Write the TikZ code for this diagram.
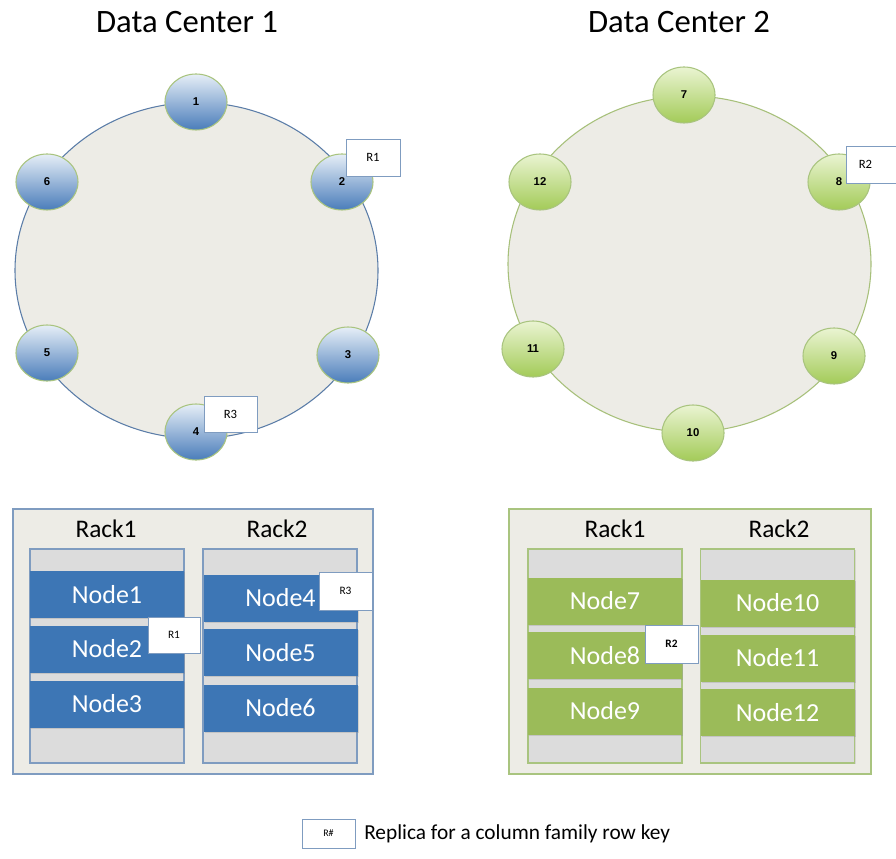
\documentclass[tikz,border=0pt]{standalone}
\usepackage{fontspec}
\setmainfont{Carlito}
\newfontfamily\numfont{Liberation Sans}
\usetikzlibrary{shapes.geometric,shadows}
\definecolor{ringfill}{HTML}{EDECE6}
\definecolor{ringblue}{HTML}{5B7DA8}
\definecolor{ringgreen}{HTML}{A7C07A}
\definecolor{blkblue}{HTML}{3D76B5}
\definecolor{blkgreen}{HTML}{9BBB59}
\definecolor{rackgrey}{HTML}{DCDCDC}
\definecolor{edgeblue}{HTML}{7F9CC0}
\definecolor{edgegreen}{HTML}{A9C47F}
\definecolor{ballbluetop}{HTML}{E6EEF7}
\definecolor{ballbluebot}{HTML}{4A7DBA}
\definecolor{ballgreentop}{HTML}{EAF4D2}
\definecolor{ballgreenbot}{HTML}{A3CB58}
\def\u{0.75pt}
\tikzset{
  ring/.style={ellipse, fill=ringfill, line width=0.8pt, minimum width=363*\u, minimum height=336*\u, inner sep=0pt},
  ball/.style={ellipse, draw=edgegreen, line width=0.8pt, minimum width=62*\u, minimum height=56*\u, inner sep=0pt, font=\numfont\bfseries\fontsize{8.5}{10}\selectfont},
  bballb/.style={ball, top color=ballbluetop, bottom color=ballbluebot},
  bballg/.style={ball, top color=ballgreentop, bottom color=ballgreenbot},
  rbox/.style={rectangle, fill=white, draw=edgeblue, line width=0.7pt, inner sep=0pt, font=\fontsize{9.5}{11}\selectfont, drop shadow={opacity=0.25, shadow xshift=1pt, shadow yshift=-1pt}},
  title/.style={anchor=base, font=\fontsize{24.5}{28}\selectfont},
  racklabel/.style={anchor=base, font=\fontsize{19}{22}\selectfont},
  outerbox/.style={rectangle, fill=ringfill, line width=0.8pt, inner sep=0pt, drop shadow={opacity=0.2, shadow xshift=1pt, shadow yshift=-1pt}},
  column/.style={rectangle, fill=rackgrey, line width=0.8pt, inner sep=0pt, minimum width=154*\u, minimum height=214*\u, drop shadow={opacity=0.2, shadow xshift=1pt, shadow yshift=-1pt}},
  blk/.style={rectangle, inner sep=0pt, minimum width=154*\u, minimum height=47*\u, text=white, font=\fontsize{19.5}{22}\selectfont, drop shadow={opacity=0.25, shadow xshift=0.8pt, shadow yshift=-0.8pt}},
  bblk/.style={blk, fill=blkblue},
  gblk/.style={blk, fill=blkgreen},
}
\begin{document}
\begin{tikzpicture}[x=0.75pt, y=-0.75pt]
\useasboundingbox (0,0) rectangle (896,859);
\fill[white] (0,0) rectangle (896,859);

% titles
\node[title] (t1) at (187,33) {Data Center 1};
\node[title] (t2) at (679,33) {Data Center 2};

% ---------- Data Center 1 ring ----------
\node[ring, draw=ringblue] (ring1) at (196.5,270.5) {};
\node[bballb] (n1) at (196,102) {1};
\node[bballb] (n2) at (342,182) {2};
\node[bballb] (n3) at (348,355) {3};
\node[bballb] (n4) at (196,432) {4};
\node[bballb] (n5) at (47,353) {5};
\node[bballb] (n6) at (47,182) {6};
\node[rbox, minimum width=54*\u, minimum height=37*\u] (r1a) at (373,157.5) {R1};
\node[rbox, minimum width=53*\u, minimum height=36*\u] (r3a) at (230.5,414) {R3};

% ---------- Data Center 2 ring ----------
\node[ring, draw=ringgreen] (ring2) at (689.5,264) {};
\node[bballg] (n7) at (684,95) {7};
\node[bballg] (n8) at (839,182) {8};
\node[bballg] (n9) at (834,356) {9};
\node[bballg] (n10) at (693,433) {10};
\node[bballg] (n11) at (533,349) {11};
\node[bballg] (n12) at (540,182) {12};
\node[rbox, anchor=west, minimum width=54*\u, minimum height=37*\u, text width=48*\u, align=left] (r2a) at (846,164.5) {\hspace*{7pt}R2};

% ---------- Data Center 1 racks ----------
\node[outerbox, draw=edgeblue, minimum width=360*\u, minimum height=265*\u] (dc1box) at (193,641.5) {};
\node[racklabel] (rk11) at (106,537) {Rack1};
\node[racklabel] (rk12) at (277,537) {Rack2};
\node[column, draw=edgeblue] (col11) at (107,656) {};
\node[column, draw=edgeblue] (col12) at (280,656) {};
\node[bblk] (b1) at (107,594.5) {Node1};
\node[bblk] (b2) at (107,649) {Node2};
\node[bblk] (b3) at (107,704) {Node3};
\node[bblk] (b4) at (280.5,598) {Node4};
\node[bblk] (b5) at (280.5,652.5) {Node5};
\node[bblk] (b6) at (280.5,708) {Node6};
\node[rbox, minimum width=52*\u, minimum height=36*\u, font=\fontsize{8.5}{10}\selectfont] (r1b) at (174,635) {R1};
\node[rbox, minimum width=53*\u, minimum height=38*\u, font=\fontsize{8.5}{10}\selectfont] (r3b) at (345.5,591) {R3};

% ---------- Data Center 2 racks ----------
\node[outerbox, draw=edgegreen, minimum width=362*\u, minimum height=265*\u] (dc2box) at (690,641.5) {};
\node[racklabel] (rk21) at (615,537) {Rack1};
\node[racklabel] (rk22) at (779,537) {Rack2};
\node[column, draw=edgegreen] (col21) at (605,656) {};
\node[column, draw=edgegreen] (col22) at (777.5,656) {};
\node[gblk] (b7) at (605,601) {Node7};
\node[gblk] (b8) at (605,655.5) {Node8};
\node[gblk] (b9) at (605,711) {Node9};
\node[gblk] (b10) at (777.5,603) {Node10};
\node[gblk] (b11) at (777.5,658) {Node11};
\node[gblk] (b12) at (777.5,712.5) {Node12};
\node[rbox, minimum width=53*\u, minimum height=38*\u, font=\bfseries\fontsize{8.5}{10}\selectfont] (r2b) at (671.5,644) {R2};

% ---------- legend ----------
\node[rbox, minimum width=53*\u, minimum height=29*\u, font=\fontsize{7.5}{9}\selectfont] (leg) at (328.5,833.5) {R\#};
\node[anchor=west, inner sep=0pt, font=\fontsize{16}{19}\selectfont] (legtxt) at (364,833.5) {Replica for a column family row key};
\end{tikzpicture}
\end{document}
